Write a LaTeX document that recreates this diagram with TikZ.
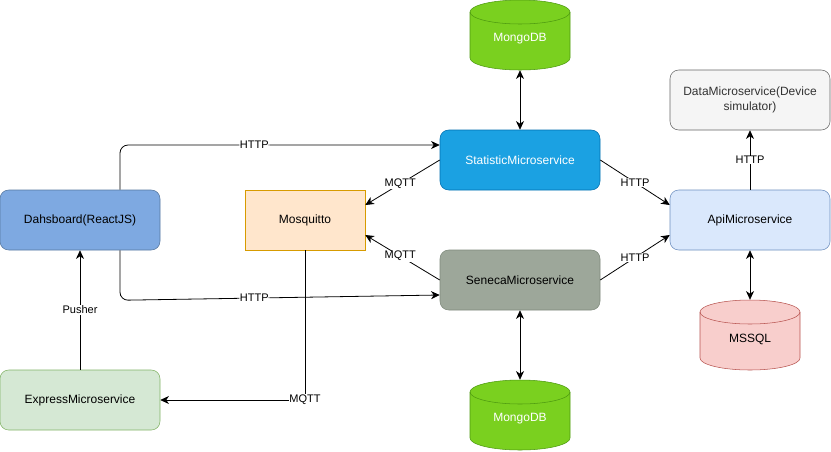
\documentclass[tikz,border=0pt]{standalone}
\usepackage{fontspec}
\setmainfont{Liberation Sans}
\usetikzlibrary{arrows.meta}
\definecolor{dashfill}{HTML}{7EA9E1}
\definecolor{dashline}{HTML}{55779F}
\definecolor{mosqfill}{HTML}{FFE6CC}
\definecolor{mosqline}{HTML}{D79B00}
\definecolor{statfill}{HTML}{1BA1E2}
\definecolor{statline}{HTML}{006EAF}
\definecolor{senfill}{HTML}{9DA79A}
\definecolor{senline}{HTML}{7E8A7B}
\definecolor{apifill}{HTML}{DAE8FC}
\definecolor{apiline}{HTML}{6C8EBF}
\definecolor{datafill}{HTML}{F5F5F5}
\definecolor{dataline}{HTML}{666666}
\definecolor{exfill}{HTML}{D5E8D4}
\definecolor{exline}{HTML}{82B366}
\definecolor{mongofill}{HTML}{7AD01F}
\definecolor{mongoline}{HTML}{4D9A10}
\definecolor{sqlfill}{HTML}{F8CECC}
\definecolor{sqlline}{HTML}{B85450}
% cylinder: name, centre x, top y, fill, line, text colour, text
\def\dbcyl#1#2#3#4#5#6#7{%
	\draw[fill=#4, draw=#5] (#2-50,#3+12) -- (#2-50,#3+58) arc (180:360:37.5pt and 9pt) -- (#2+50,#3+12) arc (0:180:37.5pt and 9pt) -- cycle;
	\draw[draw=#5] (#2-50,#3+12) arc (180:360:37.5pt and 9pt);
	\node[minimum width=75pt, minimum height=52.5pt, inner sep=0pt] (#1) at (#2,#3+35) {};
	\node[text=#6] (#1-txt) at (#2,#3+39) {#7};
}

\begin{document}
\begin{tikzpicture}[x=0.75pt, y=-0.75pt, font=\fontsize{9}{11}\selectfont,
	box/.style={rounded corners=6.5pt, minimum width=120pt, minimum height=45pt, align=center, inner sep=2pt},
	arr/.style={-{Stealth[length=6.5pt, width=6pt, inset=2pt]}, semithick},
	biarr/.style={{Stealth[length=6.5pt, width=6pt, inset=2pt]}-{Stealth[length=6.5pt, width=6pt, inset=2pt]}, semithick},
	lbl/.style={fill=white, inner sep=0.5pt, font=\fontsize{8.25}{10}\selectfont}]
			%%%%% START %%%%%
			\fill[white] (0,0) rectangle (831,451);
			\useasboundingbox (0,0) rectangle (831,451);
			
			\node[box, fill=dashfill, draw=dashline] (dash) at (80,220) {Dahsboard(ReactJS)};
			\node[box, fill=exfill, draw=exline] (express) at (80,400) {ExpressMicroservice};
			\node[box, rounded corners=0pt, minimum width=90pt, fill=mosqfill, draw=mosqline] (mosq) at (305,220) {Mosquitto};
			\node[box, fill=statfill, draw=statline, text=white] (stat) at (520,160) {StatisticMicroservice};
			\node[box, fill=senfill, draw=senline] (seneca) at (520,280) {SenecaMicroservice};
			\node[box, fill=apifill, draw=apiline] (api) at (750,220) {ApiMicroservice};
			\node[box, fill=datafill, draw=dataline, text=black!80] (data) at (750,100) {DataMicroservice(Device\\simulator)};
			
			\dbcyl{mongotop}{520}{0}{mongofill}{mongoline}{white}{MongoDB}
			\dbcyl{mongobot}{520}{380}{mongofill}{mongoline}{white}{MongoDB}
			\dbcyl{mssql}{750}{300}{sqlfill}{sqlline}{black}{MSSQL}
			
			% dashboard to the two services
			\draw[arr, rounded corners=6pt] ([xshift=30pt]dash.north) |- node[lbl, pos=0.71]{HTTP} ([yshift=11.25pt]stat.west);
			\draw[arr, rounded corners=6pt] ([xshift=30pt]dash.south) -- ++(0,50) -- node[lbl, pos=0.42]{HTTP} ([yshift=-11.25pt]seneca.west);
			
			% broker
			\draw[arr] (stat.west) -- node[lbl, pos=0.53]{MQTT} ([yshift=11.25pt]mosq.east);
			\draw[arr] (seneca.west) -- node[lbl, pos=0.53]{MQTT} ([yshift=-11.25pt]mosq.east);
			\draw[arr] (mosq.south) |- node[lbl]{MQTT} (express.east);
			\draw[arr] (express.north) -- node[lbl]{Pusher} (dash.south);
			
			% api
			\draw[arr] (stat.east) -- node[lbl]{HTTP} ([yshift=11.25pt]api.west);
			\draw[arr] (seneca.east) -- node[lbl]{HTTP} ([yshift=-11.25pt]api.west);
			\draw[arr] (api.north) -- node[lbl]{HTTP} (data.south);
			
			% databases
			\draw[biarr] (mongotop.south) -- (stat.north);
			\draw[biarr] (seneca.south) -- (mongobot.north);
			\draw[biarr] (api.south) -- (mssql.north);
			%%%%% END %%%%%
\end{tikzpicture}
\end{document}
